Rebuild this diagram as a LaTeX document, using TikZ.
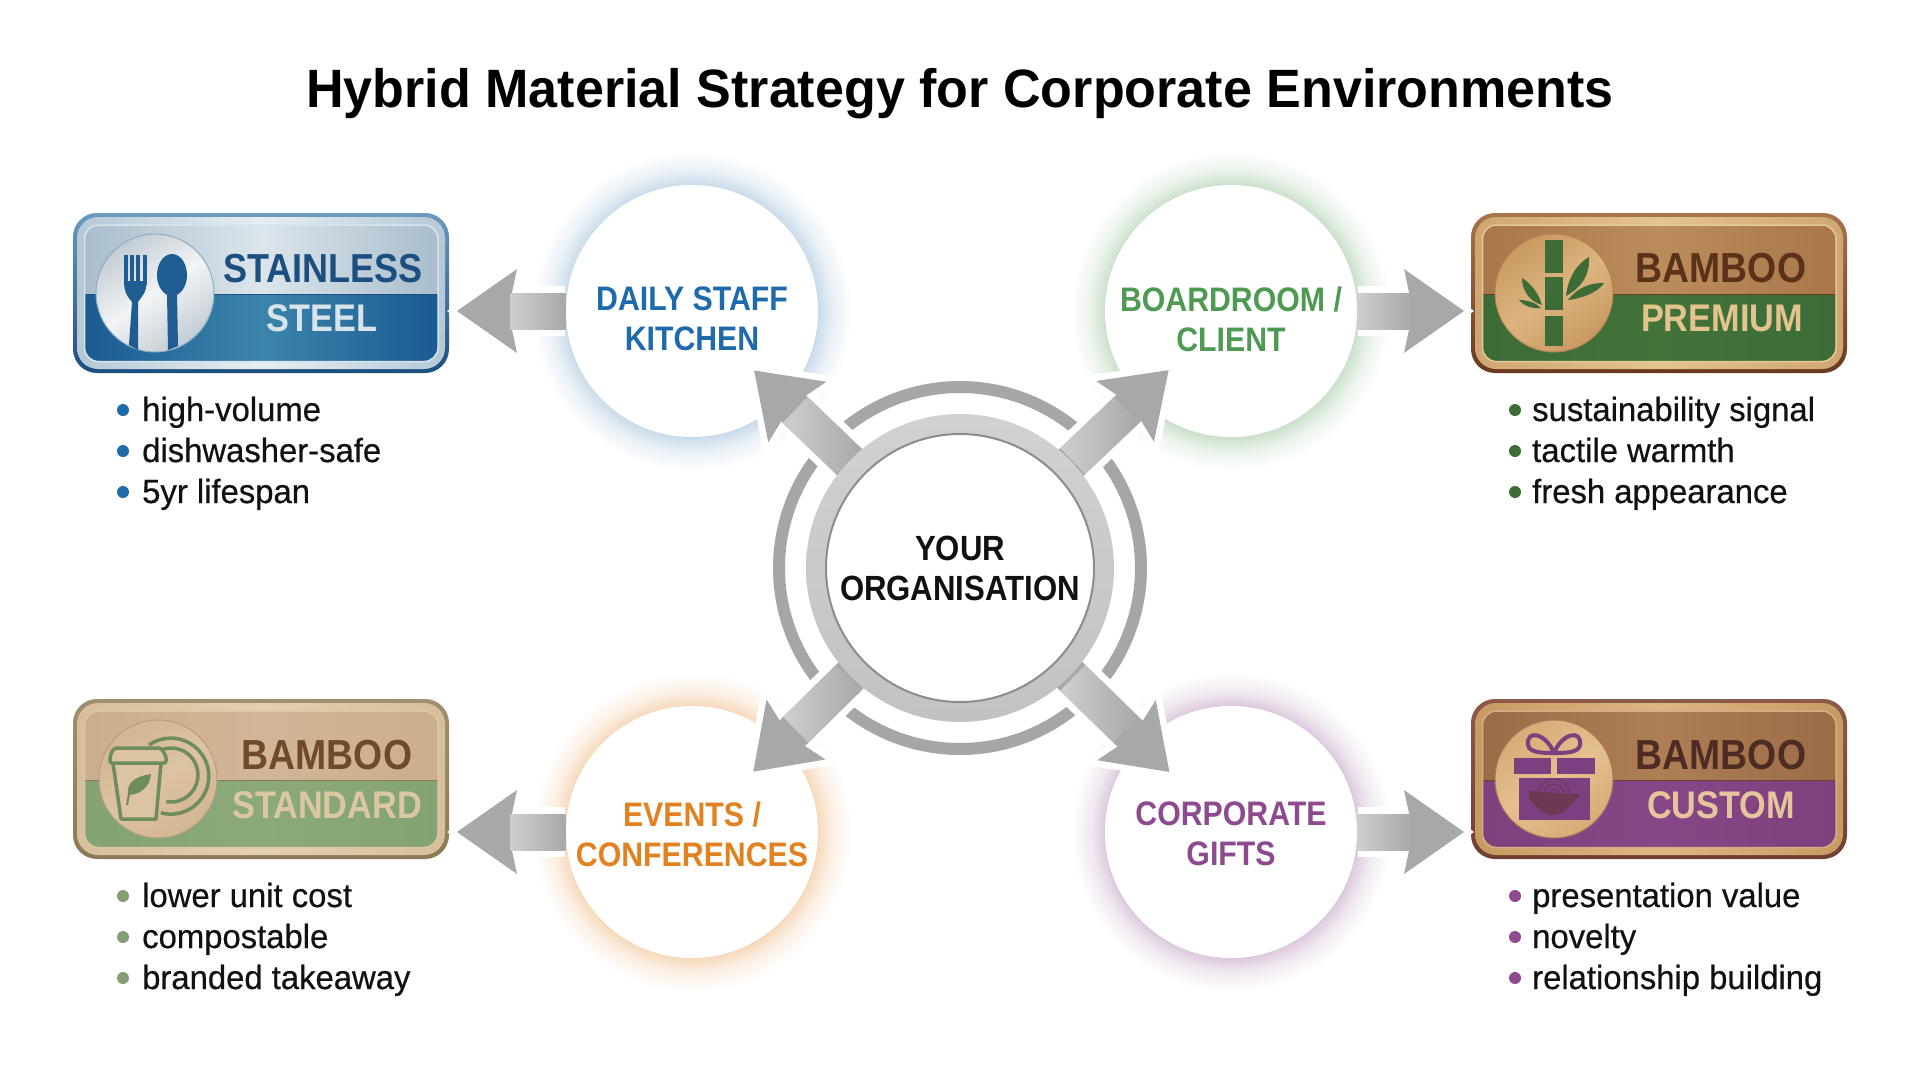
\documentclass[tikz,border=0pt]{standalone}
\usepackage{fontspec}
\setmainfont[FakeStretch=.89]{Liberation Sans}
\newfontfamily\titlefont[FakeStretch=.964]{Liberation Sans}
\newfontfamily\listfont[FakeStretch=.98, FakeBold=.5]{Liberation Sans}
\usepackage{tikz}
\usepackage{xcolor}
\usetikzlibrary{calc}
\usetikzlibrary{backgrounds}
\usetikzlibrary{positioning, arrows.meta}

\definecolor{spokegray}{HTML}{A6A8A9}
\definecolor{ringgray}{HTML}{A4A6A7}
\definecolor{inkdark}{HTML}{111111}
\definecolor{steelblue}{HTML}{1F6AAB}
\definecolor{leafgreen}{HTML}{4F9A52}
\definecolor{eventorange}{HTML}{E2811F}
\definecolor{giftpurple}{HTML}{8E4A8E}

% plaque colours, one set per plaque
\definecolor{steel-edgetop}{HTML}{6C9ABD}  \definecolor{steel-edgebot}{HTML}{1D4E80}
\definecolor{steel-rim}{HTML}{B4C8D6}      \definecolor{steel-rimhi}{HTML}{E6EEF3}
\definecolor{steel-topside}{HTML}{A9BDCC}  \definecolor{steel-topmid}{HTML}{DCE5EB}
\definecolor{steel-botside}{HTML}{1B5A92}  \definecolor{steel-botmid}{HTML}{3B85AB}
\definecolor{steel-line}{HTML}{D8E4EC}
\definecolor{steel-medalside}{HTML}{C2CCD3} \definecolor{steel-medalmid}{HTML}{F2F4F6}

\definecolor{premium-edgetop}{HTML}{A8744A} \definecolor{premium-edgebot}{HTML}{6A3A1E}
\definecolor{premium-rim}{HTML}{CFA671}     \definecolor{premium-rimhi}{HTML}{E3C48F}
\definecolor{premium-topside}{HTML}{A9774A} \definecolor{premium-topmid}{HTML}{BC8C5C}
\definecolor{premium-botside}{HTML}{3D6C37} \definecolor{premium-botmid}{HTML}{427339}
\definecolor{premium-line}{HTML}{E3CB98}
\definecolor{premium-medalside}{HTML}{C99A62} \definecolor{premium-medalmid}{HTML}{DDB47F}

\definecolor{standard-edgetop}{HTML}{A09070} \definecolor{standard-edgebot}{HTML}{8A7A58}
\definecolor{standard-rim}{HTML}{D8BF9B}     \definecolor{standard-rimhi}{HTML}{E4CFAF}
\definecolor{standard-topside}{HTML}{CBAE8C} \definecolor{standard-topmid}{HTML}{D1B697}
\definecolor{standard-botside}{HTML}{84A374} \definecolor{standard-botmid}{HTML}{8CA97C}
\definecolor{standard-line}{HTML}{DCC7A3}
\definecolor{standard-medalside}{HTML}{D3B692} \definecolor{standard-medalmid}{HTML}{DCC3A2}
\definecolor{standard-word}{HTML}{6E4A2A}

\definecolor{custom-edgetop}{HTML}{8B5A48} \definecolor{custom-edgebot}{HTML}{703F32}
\definecolor{custom-rim}{HTML}{C89A62}     \definecolor{custom-rimhi}{HTML}{DDB783}
\definecolor{custom-topside}{HTML}{9B6C46} \definecolor{custom-topmid}{HTML}{AE7F55}
\definecolor{custom-botside}{HTML}{80407E} \definecolor{custom-botmid}{HTML}{874786}
\definecolor{custom-line}{HTML}{D9AC88}
\definecolor{custom-medalside}{HTML}{D6AC76} \definecolor{custom-medalmid}{HTML}{E3C08F}

\definecolor{bladeblue}{HTML}{1E5C92}
\definecolor{stalkgreen}{HTML}{3D6C37}
\definecolor{cupgreen}{HTML}{6F8C5C}
\definecolor{boxpurple}{HTML}{7D3F80}
\definecolor{bowlbrown}{HTML}{6B3A52}

% the centre 50bp of a shading fills the path, so 25bp is the rim of the glow
\pgfdeclareradialshading{glowblue}{\pgfpointorigin}{color(0bp)=(steelblue!24!white); color(19.7bp)=(steelblue!24!white); color(22bp)=(steelblue!10!white); color(25bp)=(white); color(50bp)=(white)}
\pgfdeclareradialshading{glowgreen}{\pgfpointorigin}{color(0bp)=(leafgreen!30!white); color(19.7bp)=(leafgreen!30!white); color(22bp)=(leafgreen!12!white); color(25bp)=(white); color(50bp)=(white)}
\pgfdeclareradialshading{gloworange}{\pgfpointorigin}{color(0bp)=(eventorange!30!white); color(19.7bp)=(eventorange!30!white); color(22bp)=(eventorange!12!white); color(25bp)=(white); color(50bp)=(white)}
\pgfdeclareradialshading{glowpurple}{\pgfpointorigin}{color(0bp)=(giftpurple!30!white); color(19.7bp)=(giftpurple!30!white); color(22bp)=(giftpurple!12!white); color(25bp)=(white); color(50bp)=(white)}

\tikzset{
  plaque/.style={rectangle, rounded corners=24pt, minimum width=376pt, minimum height=160pt, inner sep=0pt, outer sep=0pt},
  medal/.style={circle, minimum size=118pt, inner sep=0pt, outer sep=0pt},
  satspot/.style={circle, fill=white, minimum size=252pt, inner sep=0pt, outer sep=0pt},
  sattext/.style={align=center, inner sep=0pt, font=\fontsize{34}{40}\selectfont\bfseries},
  hubspot/.style={circle, minimum size=308pt, inner sep=0pt, outer sep=0pt},
  spoke/.style={line width=36pt, color=spokegray, shorten <=-10pt, shorten >=#1,
    -{Stealth[length=60pt, width=84pt, inset=9pt, line width=0pt]},
    preaction={draw=white, line width=50pt, shorten >=#1-10pt,
      -{Stealth[length=78pt, width=112pt, inset=9pt, line width=0pt]}}},
  spokeshade/.style={sloped, allow upside down, rectangle, inner sep=0pt, outer sep=0pt,
    minimum height=36pt, minimum width=#1, left color=spokegray!55!white, right color=spokegray},
  ringarc/.style={line width=12pt, color=ringgray},
  bulletdot/.style={circle, minimum size=12pt, inner sep=0pt},
  listtext/.style={anchor=base west, inner sep=0pt, text=inkdark, font=\listfont\fontsize{33.5}{40}\selectfont},
  bigword/.style={inner sep=0pt, font=\fontsize{42}{42}\selectfont\bfseries},
  smallword/.style={inner sep=0pt, font=\fontsize{38.5}{38}\selectfont\bfseries},
}

\begin{document}
\begin{tikzpicture}[x=1pt, y=-1pt]
  \useasboundingbox (0,0) rectangle (1920,1072);

  % Hub and the four use cases
  \node[hubspot] (hub) at (960,568) {};
  \node[satspot] (daily) at (692,311) {};
  \node[satspot] (board) at (1231,311) {};
  \node[satspot] (events) at (692,832) {};
  \node[satspot] (gifts) at (1231,832) {};

  % Glow behind the circles
  \begin{scope}[on background layer]
    \fill[white] (0,0) rectangle (1920,1072);
    \foreach \sat/\glow in {daily/glowblue, board/glowgreen, events/gloworange, gifts/glowpurple}
      \shade[shading=\glow] (\sat) circle (160);
  \end{scope}

  % Broken outer ring
  \foreach \a in {0,90,180,270}
    \draw[ringarc] (hub) ++(\a-42:181) arc[start angle=\a-42, end angle=\a+42, radius=181];

  % Plaques
  \foreach \name/\cx/\cy/\mx in {steel/261/293/-106, premium/1659/293/-105, standard/261/779/-103, custom/1659/779/-105} {
    \node[plaque, top color=\name-edgetop, bottom color=\name-edgebot] (\name) at (\cx,\cy) {};
    \begin{scope}[shift={(\name)}]
      \shade[rounded corners=21pt, left color=\name-rim, right color=\name-rim, middle color=\name-rimhi] (-184,-76) rectangle (184,76);
      \begin{scope}
        \clip[rounded corners=14pt] (-176.5,-68) rectangle (177,68.5);
        \shade[left color=\name-topside, right color=\name-topside, middle color=\name-topmid] (-177,-68) rectangle (177,1);
        \shade[left color=\name-botside, right color=\name-botside, middle color=\name-botmid] (-177,1) rectangle (177,69);
        \draw[\name-edgebot, line width=1pt] (-177,1) -- (177,1);
      \end{scope}
      \draw[\name-line, line width=1.5pt, rounded corners=14pt] (-176.5,-68) rectangle (177,68.5);
    \end{scope}
    \node[medal, left color=\name-medalside, right color=\name-medalside, middle color=\name-medalmid, shading angle=35, draw=\name-edgetop!60!\name-medalside, line width=1pt] (\name-medal) at (\cx+\mx,\cy) {};
  }

  % Fork and spoon
  \begin{scope}[shift={(steel-medal)}, bladeblue]
    \foreach \tx in {-31,-25,-19,-12}
      \fill (\tx,-38) rectangle (\tx+3.5,-8);
    \fill (-31,-12) -- (-8.5,-12) .. controls (-8,0) and (-14,4) .. (-17,9) -- (-17,57) -- (-26,52) -- (-23,9) .. controls (-27,4) and (-31,0) .. (-31,-12) -- cycle;
    \fill (17,-18) ellipse (15 and 21);
    \fill (12,0) -- (22,0) -- (23,53) -- (13,57) -- cycle;
  \end{scope}

  % Bamboo
  \begin{scope}[shift={(premium-medal)}, stalkgreen]
    \fill (-9,-53) rectangle (9,-20);
    \fill (-9,-16) rectangle (9,17);
    \fill (-9,23) rectangle (9,53);
    \fill (12,3) .. controls (14,-16) and (24,-30) .. (35,-36) .. controls (36,-18) and (28,-6) .. (12,3) -- cycle;
    \fill (14,7) .. controls (24,-6) and (36,-10) .. (50,-10) .. controls (44,-1) and (30,5) .. (14,7) -- cycle;
    \fill (-12,12) .. controls (-26,8) and (-32,-4) .. (-32,-15) .. controls (-24,-10) and (-15,0) .. (-12,12) -- cycle;
    \fill (-13,15) .. controls (-22,16) and (-30,13) .. (-35,7) .. controls (-25,7) and (-18,10) .. (-13,15) -- cycle;
  \end{scope}

  % Cup and plate
  \begin{scope}[shift={(standard-medal)}, cupgreen, line width=3.5pt, line join=round]
    \draw (-9,-34) arc[start angle=-125, end angle=105, radius=38];
    \draw (1.6,-28.5) arc[start angle=-115, end angle=100, radius=27];
    \draw[fill=standard-medalmid] (-45,-16) -- (3,-16) -- (-2,40) -- (-37,40) -- cycle;
    \draw[fill=standard-medalmid, rounded corners=2pt] (-44,-31) -- (3,-31) -- (8,-23) -- (8,-16) -- (-48,-16) -- (-48,-23) -- cycle;
    \fill (-30,16) .. controls (-32,2) and (-20,-3) .. (-7,-5) .. controls (-8,8) and (-18,16) .. (-30,16) -- cycle;
    \draw[line width=2pt] (-29,15) -- (-31,26);
  \end{scope}

  % Gift with bowl
  \begin{scope}[shift={(custom-medal)}, boxpurple]
    \draw[line width=4pt] (0,-26) .. controls (-8,-46) and (-28,-50) .. (-26,-34) .. controls (-25,-26) and (-10,-26) .. (0,-26);
    \draw[line width=4pt] (0,-26) .. controls (8,-46) and (28,-50) .. (26,-34) .. controls (25,-26) and (10,-26) .. (0,-26);
    \fill (-40,-21) rectangle (-3,-5);
    \fill (3,-21) rectangle (41,-5);
    \fill (-35,-1) rectangle (36,41);
    \fill[bowlbrown] (-25,12) -- (-25,20) .. controls (-15,30) and (-10,36) .. (-1,36) .. controls (8,36) and (18,26) .. (26,16) -- cycle;
    \foreach \r in {5,10,15}
      \draw[bowlbrown, line width=1pt] (-\r,15) arc[start angle=180, end angle=360, radius=\r];
    \draw[bowlbrown, line width=1.5pt] (-18,16) -- (25,16);
  \end{scope}

  % Plaque wording
  \node[bigword, text=steel-edgebot, font=\fontsize{40.5}{41}\selectfont\bfseries] (steel-top) at (323,269) {STAINLESS};
  \node[smallword, text=steel-line] (steel-bot) at (322,318) {STEEL};
  \node[bigword, text=premium-edgebot!85!black] (premium-top) at (1721,268) {BAMBOO};
  \node[smallword, text=premium-rimhi] (premium-bot) at (1722,318) {PREMIUM};
  \node[bigword, text=standard-word] (standard-top) at (327,755) {BAMBOO};
  \node[smallword, text=standard-line] (standard-bot) at (327,805) {STANDARD};
  \node[bigword, text=custom-edgebot!70!black] (custom-top) at (1721,755) {BAMBOO};
  \node[smallword, text=custom-rimhi!80!white] (custom-bot) at (1721,805) {CUSTOM};

  % Circle wording
  \node[sattext, text=steelblue] (daily-text) at (692,319) {DAILY STAFF\\KITCHEN};
  \node[sattext, text=leafgreen] (board-text) at (1231,319) {BOARDROOM /\\CLIENT};
  \node[sattext, text=eventorange] (events-text) at (692,834) {EVENTS /\\CONFERENCES};
  \node[sattext, text=giftpurple] (gifts-text) at (1231,834) {CORPORATE\\GIFTS};

  % Spokes from the hub
  \foreach \sat in {daily,board,events,gifts}
    \draw[spoke=-40pt] (hub) -- (\sat) node[spokeshade=74pt, pos=.41] (shade-\sat) {};

  % Spokes out to the plaques
  \draw[spoke=8pt, shorten <=1pt] (daily) -- (daily -| steel.east) node[spokeshade=55pt, pos=.24] (shade-steel) {};
  \draw[spoke=7pt, shorten <=1pt] (board) -- (board -| premium.west) node[spokeshade=55pt, pos=.24] (shade-premium) {};
  \draw[spoke=8pt, shorten <=1pt] (events) -- (events -| standard.east) node[spokeshade=55pt, pos=.24] (shade-standard) {};
  \draw[spoke=7pt, shorten <=1pt] (gifts) -- (gifts -| custom.west) node[spokeshade=55pt, pos=.24] (shade-custom) {};

  % Ring and centre
  \shade[even odd rule, top color=black!18, bottom color=black!24] (hub) circle (154) (hub) circle (134);
  \draw[line width=2pt, black!45] (hub) circle (134);
  \node[align=center, inner sep=0pt, text=inkdark, font=\fontsize{35}{40}\selectfont\bfseries] (hub-text) at (960,568) {YOUR\\ORGANISATION};

  % Lists
  \foreach \txt [count=\i] in {high-volume, dishwasher-safe, 5yr lifespan} {
    \node[bulletdot, fill=steelblue] (steel-dot-\i) at (123,369+41*\i) {};
    \node[listtext] (steel-item-\i) at (142,380+41*\i) {\txt};
  }
  \foreach \txt [count=\i] in {sustainability signal, tactile warmth, fresh appearance} {
    \node[bulletdot, fill=premium-botside] (premium-dot-\i) at (1515,369+41*\i) {};
    \node[listtext] (premium-item-\i) at (1532,380+41*\i) {\txt};
  }
  \foreach \txt [count=\i] in {lower unit cost, compostable, branded takeaway} {
    \node[bulletdot, fill=cupgreen!85!white] (standard-dot-\i) at (123,855+41*\i) {};
    \node[listtext] (standard-item-\i) at (142,866+41*\i) {\txt};
  }
  \foreach \txt [count=\i] in {presentation value, novelty, relationship building} {
    \node[bulletdot, fill=giftpurple] (custom-dot-\i) at (1515,855+41*\i) {};
    \node[listtext] (custom-item-\i) at (1532,866+41*\i) {\txt};
  }

  % Title
  \node[inner sep=0pt, font=\titlefont\fontsize{54}{60}\selectfont\bfseries] (title) at (960,94) {Hybrid Material Strategy for Corporate Environments};
\end{tikzpicture}
\end{document}
